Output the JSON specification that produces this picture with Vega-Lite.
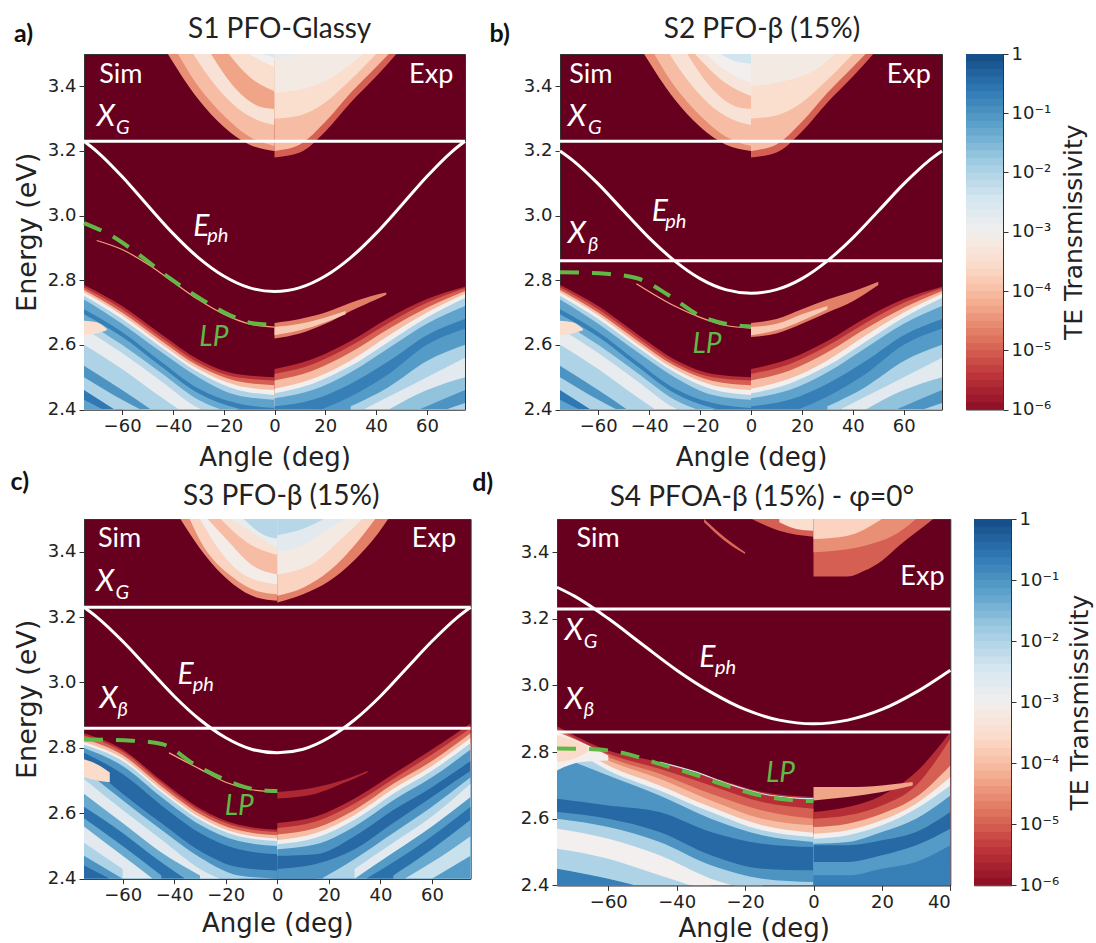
{"$schema":"https://vega.github.io/schema/vega-lite/v6.json","padding":{"left":10,"top":15,"right":0,"bottom":0},"background":"white","spacing":-2,
"config":{"axis":{"grid":false,"labelFont":"DejaVu Sans","labelFontSize":18,"titleFont":"DejaVu Sans","titleFontWeight":"normal","titleFontSize":26,"labelColor":"#222","titleColor":"#222","domainColor":"#333","tickColor":"#333","tickSize":5,"labelPadding":3},"view":{"fill":"#67001f","stroke":"#333"}},
"datasets":{
"bar":[{"h":1,"t":0.866},{"h":0.75,"t":0.649},{"h":0.562,"t":0.487},{"h":0.422,"t":0.365},{"h":0.316,"t":0.274},{"h":0.237,"t":0.205},{"h":0.178,"t":0.154},{"h":0.133,"t":0.115},{"h":0.1,"t":0.0866},{"h":0.075,"t":0.0649},{"h":0.0562,"t":0.0487},{"h":0.0422,"t":0.0365},{"h":0.0316,"t":0.0274},{"h":0.0237,"t":0.0205},{"h":0.0178,"t":0.0154},{"h":0.0133,"t":0.0115},{"h":0.01,"t":0.00866},{"h":0.0075,"t":0.00649},{"h":0.00562,"t":0.00487},{"h":0.00422,"t":0.00365},{"h":0.00316,"t":0.00274},{"h":0.00237,"t":0.00205},{"h":0.00178,"t":0.00154},{"h":0.00133,"t":0.00115},{"h":0.001,"t":0.000866},{"h":0.00075,"t":0.000649},{"h":0.000562,"t":0.000487},{"h":0.000422,"t":0.000365},{"h":0.000316,"t":0.000274},{"h":0.000237,"t":0.000205},{"h":0.000178,"t":0.000154},{"h":0.000133,"t":0.000115},{"h":0.0001,"t":0.0000866},{"h":0.000075,"t":0.0000649},{"h":0.0000562,"t":0.0000487},{"h":0.0000422,"t":0.0000365},{"h":0.0000316,"t":0.0000274},{"h":0.0000237,"t":0.0000205},{"h":0.0000178,"t":0.0000154},{"h":0.0000133,"t":0.0000115},{"h":0.00001,"t":0.00000866},{"h":0.0000075,"t":0.00000649},{"h":0.00000562,"t":0.00000487},{"h":0.00000422,"t":0.00000365},{"h":0.00000316,"t":0.00000274},{"h":0.00000237,"t":0.00000205},{"h":0.00000178,"t":0.00000154},{"h":0.00000133,"t":0.00000115}],
"lowAB":[
{"b":1,"t":3e-6,"x":-75,"y":2.785},{"b":1,"t":3e-6,"x":-60,"y":2.72},{"b":1,"t":3e-6,"x":-45,"y":2.635},{"b":1,"t":3e-6,"x":-30,"y":2.555},{"b":1,"t":3e-6,"x":-15,"y":2.51},{"b":1,"t":3e-6,"x":0,"y":2.5},
{"b":2,"t":1e-5,"x":-75,"y":2.778},{"b":2,"t":1e-5,"x":-60,"y":2.71},{"b":2,"t":1e-5,"x":-45,"y":2.625},{"b":2,"t":1e-5,"x":-30,"y":2.545},{"b":2,"t":1e-5,"x":-15,"y":2.5},{"b":2,"t":1e-5,"x":0,"y":2.49},
{"b":3,"t":1e-4,"x":-75,"y":2.77},{"b":3,"t":1e-4,"x":-60,"y":2.7},{"b":3,"t":1e-4,"x":-45,"y":2.615},{"b":3,"t":1e-4,"x":-30,"y":2.535},{"b":3,"t":1e-4,"x":-15,"y":2.488},{"b":3,"t":1e-4,"x":0,"y":2.475},
{"b":4,"t":1e-3,"x":-75,"y":2.762},{"b":4,"t":1e-3,"x":-60,"y":2.692},{"b":4,"t":1e-3,"x":-45,"y":2.605},{"b":4,"t":1e-3,"x":-30,"y":2.525},{"b":4,"t":1e-3,"x":-15,"y":2.475},{"b":4,"t":1e-3,"x":0,"y":2.46},
{"b":5,"t":1e-2,"x":-75,"y":2.752},{"b":5,"t":1e-2,"x":-60,"y":2.68},{"b":5,"t":1e-2,"x":-45,"y":2.595},{"b":5,"t":1e-2,"x":-30,"y":2.515},{"b":5,"t":1e-2,"x":-15,"y":2.462},{"b":5,"t":1e-2,"x":0,"y":2.445},
{"b":6,"t":6e-2,"x":-75,"y":2.74},{"b":6,"t":6e-2,"x":-60,"y":2.665},{"b":6,"t":6e-2,"x":-45,"y":2.58},{"b":6,"t":6e-2,"x":-30,"y":2.5},{"b":6,"t":6e-2,"x":-15,"y":2.445},{"b":6,"t":6e-2,"x":0,"y":2.43},
{"b":7,"t":2e-1,"x":-75,"y":2.71},{"b":7,"t":2e-1,"x":-60,"y":2.64},{"b":7,"t":2e-1,"x":-45,"y":2.55},{"b":7,"t":2e-1,"x":-30,"y":2.465},{"b":7,"t":2e-1,"x":-15,"y":2.42},{"b":7,"t":2e-1,"x":0,"y":2.405},
{"b":8,"t":5e-2,"x":-75,"y":2.695},{"b":8,"t":5e-2,"x":-60,"y":2.625},{"b":8,"t":5e-2,"x":-45,"y":2.535},{"b":8,"t":5e-2,"x":-30,"y":2.45},{"b":8,"t":5e-2,"x":-15,"y":2.405},{"b":8,"t":5e-2,"x":0,"y":2.39},
{"b":9,"t":8e-3,"x":-75,"y":2.675},{"b":9,"t":8e-3,"x":-60,"y":2.6},{"b":9,"t":8e-3,"x":-45,"y":2.515},{"b":9,"t":8e-3,"x":-30,"y":2.43},{"b":9,"t":8e-3,"x":-15,"y":2.385},
{"b":10,"t":1.5e-3,"x":-75,"y":2.65},{"b":10,"t":1.5e-3,"x":-60,"y":2.575},{"b":10,"t":1.5e-3,"x":-45,"y":2.49},{"b":10,"t":1.5e-3,"x":-30,"y":2.405},{"b":10,"t":1.5e-3,"x":-15,"y":2.375},
{"b":11,"t":1e-2,"x":-75,"y":2.6},{"b":11,"t":1e-2,"x":-60,"y":2.525},{"b":11,"t":1e-2,"x":-45,"y":2.44},{"b":11,"t":1e-2,"x":-30,"y":2.36},
{"b":12,"t":1e-1,"x":-75,"y":2.535},{"b":12,"t":1e-1,"x":-60,"y":2.46},{"b":12,"t":1e-1,"x":-45,"y":2.38},
{"b":13,"t":1e-2,"x":-75,"y":2.5},{"b":13,"t":1e-2,"x":-60,"y":2.43},{"b":13,"t":1e-2,"x":-45,"y":2.37},
{"b":14,"t":2.5e-1,"x":-75,"y":2.46},{"b":14,"t":2.5e-1,"x":-60,"y":2.385},
{"b":15,"t":6e-2,"x":-75,"y":2.43},{"b":15,"t":6e-2,"x":-60,"y":2.37},
{"b":21,"t":3e-6,"x":0,"y":2.525},{"b":21,"t":3e-6,"x":15,"y":2.556},{"b":21,"t":3e-6,"x":30,"y":2.612},{"b":21,"t":3e-6,"x":45,"y":2.683},{"b":21,"t":3e-6,"x":60,"y":2.742},{"b":21,"t":3e-6,"x":75,"y":2.78},
{"b":22,"t":1e-5,"x":0,"y":2.51},{"b":22,"t":1e-5,"x":15,"y":2.54},{"b":22,"t":1e-5,"x":30,"y":2.597},{"b":22,"t":1e-5,"x":45,"y":2.668},{"b":22,"t":1e-5,"x":60,"y":2.73},{"b":22,"t":1e-5,"x":75,"y":2.775},
{"b":23,"t":1e-4,"x":0,"y":2.49},{"b":23,"t":1e-4,"x":15,"y":2.52},{"b":23,"t":1e-4,"x":30,"y":2.577},{"b":23,"t":1e-4,"x":45,"y":2.65},{"b":23,"t":1e-4,"x":60,"y":2.715},{"b":23,"t":1e-4,"x":75,"y":2.767},
{"b":24,"t":1e-3,"x":0,"y":2.464},{"b":24,"t":1e-3,"x":15,"y":2.495},{"b":24,"t":1e-3,"x":30,"y":2.552},{"b":24,"t":1e-3,"x":45,"y":2.629},{"b":24,"t":1e-3,"x":60,"y":2.7},{"b":24,"t":1e-3,"x":75,"y":2.758},
{"b":25,"t":1e-2,"x":0,"y":2.45},{"b":25,"t":1e-2,"x":15,"y":2.48},{"b":25,"t":1e-2,"x":30,"y":2.535},{"b":25,"t":1e-2,"x":45,"y":2.61},{"b":25,"t":1e-2,"x":60,"y":2.685},{"b":25,"t":1e-2,"x":75,"y":2.745},
{"b":26,"t":6e-2,"x":0,"y":2.435},{"b":26,"t":6e-2,"x":15,"y":2.46},{"b":26,"t":6e-2,"x":30,"y":2.515},{"b":26,"t":6e-2,"x":45,"y":2.59},{"b":26,"t":6e-2,"x":60,"y":2.665},{"b":26,"t":6e-2,"x":75,"y":2.72},
{"b":27,"t":2e-1,"x":0,"y":2.41},{"b":27,"t":2e-1,"x":15,"y":2.43},{"b":27,"t":2e-1,"x":30,"y":2.48},{"b":27,"t":2e-1,"x":45,"y":2.55},{"b":27,"t":2e-1,"x":60,"y":2.63},{"b":27,"t":2e-1,"x":75,"y":2.68},
{"b":28,"t":8e-2,"x":15,"y":2.39},{"b":28,"t":8e-2,"x":30,"y":2.44},{"b":28,"t":8e-2,"x":45,"y":2.51},{"b":28,"t":8e-2,"x":60,"y":2.6},{"b":28,"t":8e-2,"x":75,"y":2.65},
{"b":29,"t":1e-2,"x":30,"y":2.41},{"b":29,"t":1e-2,"x":45,"y":2.47},{"b":29,"t":1e-2,"x":60,"y":2.55},{"b":29,"t":1e-2,"x":75,"y":2.6},
{"b":30,"t":2e-3,"x":30,"y":2.38},{"b":30,"t":2e-3,"x":45,"y":2.44},{"b":30,"t":2e-3,"x":60,"y":2.5},{"b":30,"t":2e-3,"x":75,"y":2.56},
{"b":31,"t":2e-2,"x":45,"y":2.4},{"b":31,"t":2e-2,"x":60,"y":2.46},{"b":31,"t":2e-2,"x":75,"y":2.5},
{"b":32,"t":1e-1,"x":45,"y":2.36},{"b":32,"t":1e-1,"x":60,"y":2.41},{"b":32,"t":1e-1,"x":75,"y":2.46},
{"b":33,"t":1e-2,"x":60,"y":2.38},{"b":33,"t":1e-2,"x":75,"y":2.42}],
"lowC":[
{"b":1,"t":3e-6,"x":-75,"y":2.845},{"b":1,"t":3e-6,"x":-60,"y":2.795},{"b":1,"t":3e-6,"x":-45,"y":2.7},{"b":1,"t":3e-6,"x":-30,"y":2.615},{"b":1,"t":3e-6,"x":-15,"y":2.565},{"b":1,"t":3e-6,"x":0,"y":2.55},
{"b":2,"t":1e-5,"x":-75,"y":2.838},{"b":2,"t":1e-5,"x":-60,"y":2.788},{"b":2,"t":1e-5,"x":-45,"y":2.693},{"b":2,"t":1e-5,"x":-30,"y":2.608},{"b":2,"t":1e-5,"x":-15,"y":2.558},{"b":2,"t":1e-5,"x":0,"y":2.543},
{"b":3,"t":1e-4,"x":-75,"y":2.828},{"b":3,"t":1e-4,"x":-60,"y":2.778},{"b":3,"t":1e-4,"x":-45,"y":2.683},{"b":3,"t":1e-4,"x":-30,"y":2.598},{"b":3,"t":1e-4,"x":-15,"y":2.548},{"b":3,"t":1e-4,"x":0,"y":2.533},
{"b":4,"t":1e-3,"x":-75,"y":2.818},{"b":4,"t":1e-3,"x":-60,"y":2.768},{"b":4,"t":1e-3,"x":-45,"y":2.673},{"b":4,"t":1e-3,"x":-30,"y":2.588},{"b":4,"t":1e-3,"x":-15,"y":2.538},{"b":4,"t":1e-3,"x":0,"y":2.523},
{"b":5,"t":1e-2,"x":-75,"y":2.81},{"b":5,"t":1e-2,"x":-60,"y":2.76},{"b":5,"t":1e-2,"x":-45,"y":2.665},{"b":5,"t":1e-2,"x":-30,"y":2.58},{"b":5,"t":1e-2,"x":-15,"y":2.53},{"b":5,"t":1e-2,"x":0,"y":2.515},
{"b":6,"t":1e-1,"x":-75,"y":2.8},{"b":6,"t":1e-1,"x":-60,"y":2.745},{"b":6,"t":1e-1,"x":-45,"y":2.65},{"b":6,"t":1e-1,"x":-30,"y":2.565},{"b":6,"t":1e-1,"x":-15,"y":2.515},{"b":6,"t":1e-1,"x":0,"y":2.5},
{"b":7,"t":4e-1,"x":-75,"y":2.785},{"b":7,"t":4e-1,"x":-60,"y":2.72},{"b":7,"t":4e-1,"x":-45,"y":2.625},{"b":7,"t":4e-1,"x":-30,"y":2.54},{"b":7,"t":4e-1,"x":-15,"y":2.49},{"b":7,"t":4e-1,"x":0,"y":2.475},
{"b":8,"t":1e-1,"x":-75,"y":2.76},{"b":8,"t":1e-1,"x":-60,"y":2.66},{"b":8,"t":1e-1,"x":-45,"y":2.57},{"b":8,"t":1e-1,"x":-30,"y":2.485},{"b":8,"t":1e-1,"x":-15,"y":2.435},{"b":8,"t":1e-1,"x":0,"y":2.425},
{"b":9,"t":1e-2,"x":-75,"y":2.735},{"b":9,"t":1e-2,"x":-60,"y":2.64},{"b":9,"t":1e-2,"x":-45,"y":2.55},{"b":9,"t":1e-2,"x":-30,"y":2.465},{"b":9,"t":1e-2,"x":-15,"y":2.41},{"b":9,"t":1e-2,"x":0,"y":2.4},
{"b":10,"t":2e-3,"x":-75,"y":2.705},{"b":10,"t":2e-3,"x":-60,"y":2.61},{"b":10,"t":2e-3,"x":-45,"y":2.52},{"b":10,"t":2e-3,"x":-30,"y":2.43},{"b":10,"t":2e-3,"x":-15,"y":2.38},
{"b":11,"t":5e-2,"x":-75,"y":2.66},{"b":11,"t":5e-2,"x":-60,"y":2.57},{"b":11,"t":5e-2,"x":-45,"y":2.48},{"b":11,"t":5e-2,"x":-30,"y":2.41},
{"b":12,"t":3e-1,"x":-75,"y":2.62},{"b":12,"t":3e-1,"x":-60,"y":2.54},{"b":12,"t":3e-1,"x":-45,"y":2.45},{"b":12,"t":3e-1,"x":-30,"y":2.37},
{"b":13,"t":5e-2,"x":-75,"y":2.585},{"b":13,"t":5e-2,"x":-60,"y":2.5},{"b":13,"t":5e-2,"x":-45,"y":2.41},
{"b":14,"t":2e-3,"x":-75,"y":2.56},{"b":14,"t":2e-3,"x":-60,"y":2.47},{"b":14,"t":2e-3,"x":-45,"y":2.38},
{"b":15,"t":1e-2,"x":-75,"y":2.51},{"b":15,"t":1e-2,"x":-60,"y":2.43},
{"b":16,"t":1e-1,"x":-75,"y":2.47},{"b":16,"t":1e-1,"x":-60,"y":2.4},
{"b":17,"t":4e-1,"x":-75,"y":2.44},{"b":17,"t":4e-1,"x":-60,"y":2.38},
{"b":21,"t":3e-6,"x":0,"y":2.57},{"b":21,"t":3e-6,"x":15,"y":2.59},{"b":21,"t":3e-6,"x":30,"y":2.645},{"b":21,"t":3e-6,"x":45,"y":2.72},{"b":21,"t":3e-6,"x":60,"y":2.795},{"b":21,"t":3e-6,"x":75,"y":2.875},
{"b":22,"t":1e-5,"x":0,"y":2.555},{"b":22,"t":1e-5,"x":15,"y":2.575},{"b":22,"t":1e-5,"x":30,"y":2.63},{"b":22,"t":1e-5,"x":45,"y":2.705},{"b":22,"t":1e-5,"x":60,"y":2.78},{"b":22,"t":1e-5,"x":75,"y":2.86},
{"b":23,"t":1e-4,"x":0,"y":2.535},{"b":23,"t":1e-4,"x":15,"y":2.555},{"b":23,"t":1e-4,"x":30,"y":2.61},{"b":23,"t":1e-4,"x":45,"y":2.69},{"b":23,"t":1e-4,"x":60,"y":2.76},{"b":23,"t":1e-4,"x":75,"y":2.845},
{"b":24,"t":1e-3,"x":0,"y":2.518},{"b":24,"t":1e-3,"x":15,"y":2.54},{"b":24,"t":1e-3,"x":30,"y":2.595},{"b":24,"t":1e-3,"x":45,"y":2.675},{"b":24,"t":1e-3,"x":60,"y":2.745},{"b":24,"t":1e-3,"x":75,"y":2.83},
{"b":25,"t":1e-2,"x":0,"y":2.505},{"b":25,"t":1e-2,"x":15,"y":2.525},{"b":25,"t":1e-2,"x":30,"y":2.58},{"b":25,"t":1e-2,"x":45,"y":2.66},{"b":25,"t":1e-2,"x":60,"y":2.73},{"b":25,"t":1e-2,"x":75,"y":2.815},
{"b":26,"t":1e-1,"x":0,"y":2.49},{"b":26,"t":1e-1,"x":15,"y":2.505},{"b":26,"t":1e-1,"x":30,"y":2.56},{"b":26,"t":1e-1,"x":45,"y":2.64},{"b":26,"t":1e-1,"x":60,"y":2.71},{"b":26,"t":1e-1,"x":75,"y":2.795},
{"b":27,"t":4e-1,"x":0,"y":2.47},{"b":27,"t":4e-1,"x":15,"y":2.475},{"b":27,"t":4e-1,"x":30,"y":2.53},{"b":27,"t":4e-1,"x":45,"y":2.61},{"b":27,"t":4e-1,"x":60,"y":2.68},{"b":27,"t":4e-1,"x":75,"y":2.76},
{"b":28,"t":1e-1,"x":0,"y":2.43},{"b":28,"t":1e-1,"x":15,"y":2.445},{"b":28,"t":1e-1,"x":30,"y":2.49},{"b":28,"t":1e-1,"x":45,"y":2.57},{"b":28,"t":1e-1,"x":60,"y":2.65},{"b":28,"t":1e-1,"x":75,"y":2.73},
{"b":29,"t":1e-2,"x":15,"y":2.39},{"b":29,"t":1e-2,"x":30,"y":2.46},{"b":29,"t":1e-2,"x":45,"y":2.54},{"b":29,"t":1e-2,"x":60,"y":2.62},{"b":29,"t":1e-2,"x":75,"y":2.71},
{"b":30,"t":2e-3,"x":30,"y":2.43},{"b":30,"t":2e-3,"x":45,"y":2.51},{"b":30,"t":2e-3,"x":60,"y":2.59},{"b":30,"t":2e-3,"x":75,"y":2.69},
{"b":31,"t":8e-2,"x":30,"y":2.4},{"b":31,"t":8e-2,"x":45,"y":2.48},{"b":31,"t":8e-2,"x":60,"y":2.56},{"b":31,"t":8e-2,"x":75,"y":2.65},
{"b":32,"t":3e-1,"x":30,"y":2.38},{"b":32,"t":3e-1,"x":45,"y":2.45},{"b":32,"t":3e-1,"x":60,"y":2.53},{"b":32,"t":3e-1,"x":75,"y":2.62},
{"b":33,"t":5e-2,"x":45,"y":2.41},{"b":33,"t":5e-2,"x":60,"y":2.49},{"b":33,"t":5e-2,"x":75,"y":2.58},
{"b":34,"t":5e-3,"x":45,"y":2.38},{"b":34,"t":5e-3,"x":60,"y":2.45},{"b":34,"t":5e-3,"x":75,"y":2.53},
{"b":35,"t":8e-2,"x":60,"y":2.4},{"b":35,"t":8e-2,"x":75,"y":2.47}],
"lowD":[
{"b":1,"t":3e-6,"x":-75,"y":2.878},{"b":1,"t":3e-6,"x":-60,"y":2.805},{"b":1,"t":3e-6,"x":-45,"y":2.77},{"b":1,"t":3e-6,"x":-30,"y":2.725},{"b":1,"t":3e-6,"x":-15,"y":2.68},{"b":1,"t":3e-6,"x":0,"y":2.665},
{"b":2,"t":1e-5,"x":-75,"y":2.87},{"b":2,"t":1e-5,"x":-60,"y":2.795},{"b":2,"t":1e-5,"x":-45,"y":2.75},{"b":2,"t":1e-5,"x":-30,"y":2.7},{"b":2,"t":1e-5,"x":-15,"y":2.65},{"b":2,"t":1e-5,"x":0,"y":2.63},
{"b":3,"t":3e-5,"x":-75,"y":2.865},{"b":3,"t":3e-5,"x":-60,"y":2.785},{"b":3,"t":3e-5,"x":-45,"y":2.735},{"b":3,"t":3e-5,"x":-30,"y":2.675},{"b":3,"t":3e-5,"x":-15,"y":2.625},{"b":3,"t":3e-5,"x":0,"y":2.6},
{"b":4,"t":1e-4,"x":-75,"y":2.86},{"b":4,"t":1e-4,"x":-60,"y":2.775},{"b":4,"t":1e-4,"x":-45,"y":2.72},{"b":4,"t":1e-4,"x":-30,"y":2.655},{"b":4,"t":1e-4,"x":-15,"y":2.6},{"b":4,"t":1e-4,"x":0,"y":2.58},
{"b":5,"t":1e-3,"x":-75,"y":2.85},{"b":5,"t":1e-3,"x":-60,"y":2.76},{"b":5,"t":1e-3,"x":-45,"y":2.7},{"b":5,"t":1e-3,"x":-30,"y":2.635},{"b":5,"t":1e-3,"x":-15,"y":2.58},{"b":5,"t":1e-3,"x":0,"y":2.558},
{"b":6,"t":1e-2,"x":-75,"y":2.84},{"b":6,"t":1e-2,"x":-60,"y":2.745},{"b":6,"t":1e-2,"x":-45,"y":2.685},{"b":6,"t":1e-2,"x":-30,"y":2.62},{"b":6,"t":1e-2,"x":-15,"y":2.565},{"b":6,"t":1e-2,"x":0,"y":2.545},
{"b":7,"t":1e-1,"x":-75,"y":2.79},{"b":7,"t":1e-1,"x":-60,"y":2.73},{"b":7,"t":1e-1,"x":-45,"y":2.67},{"b":7,"t":1e-1,"x":-30,"y":2.6},{"b":7,"t":1e-1,"x":-15,"y":2.55},{"b":7,"t":1e-1,"x":0,"y":2.53},
{"b":8,"t":4e-1,"x":-75,"y":2.66},{"b":8,"t":4e-1,"x":-60,"y":2.64},{"b":8,"t":4e-1,"x":-45,"y":2.62},{"b":8,"t":4e-1,"x":-30,"y":2.56},{"b":8,"t":4e-1,"x":-15,"y":2.525},{"b":8,"t":4e-1,"x":0,"y":2.515},
{"b":9,"t":1e-1,"x":-75,"y":2.62},{"b":9,"t":1e-1,"x":-60,"y":2.6},{"b":9,"t":1e-1,"x":-45,"y":2.56},{"b":9,"t":1e-1,"x":-30,"y":2.49},{"b":9,"t":1e-1,"x":-15,"y":2.45},{"b":9,"t":1e-1,"x":0,"y":2.445},
{"b":10,"t":1e-2,"x":-75,"y":2.6},{"b":10,"t":1e-2,"x":-60,"y":2.575},{"b":10,"t":1e-2,"x":-45,"y":2.53},{"b":10,"t":1e-2,"x":-30,"y":2.46},{"b":10,"t":1e-2,"x":-15,"y":2.42},{"b":10,"t":1e-2,"x":0,"y":2.41},
{"b":11,"t":1e-3,"x":-75,"y":2.57},{"b":11,"t":1e-3,"x":-60,"y":2.54},{"b":11,"t":1e-3,"x":-45,"y":2.49},{"b":11,"t":1e-3,"x":-30,"y":2.42},{"b":11,"t":1e-3,"x":-15,"y":2.38},
{"b":12,"t":1e-2,"x":-75,"y":2.51},{"b":12,"t":1e-2,"x":-60,"y":2.48},{"b":12,"t":1e-2,"x":-45,"y":2.43},{"b":12,"t":1e-2,"x":-30,"y":2.38},
{"b":13,"t":2e-1,"x":-75,"y":2.45},{"b":13,"t":2e-1,"x":-60,"y":2.42},{"b":13,"t":2e-1,"x":-45,"y":2.38},
{"b":21,"t":3e-6,"x":0,"y":2.62},{"b":21,"t":3e-6,"x":10,"y":2.635},{"b":21,"t":3e-6,"x":20,"y":2.67},{"b":21,"t":3e-6,"x":30,"y":2.74},{"b":21,"t":3e-6,"x":40,"y":2.86},
{"b":22,"t":1e-5,"x":0,"y":2.6},{"b":22,"t":1e-5,"x":10,"y":2.61},{"b":22,"t":1e-5,"x":20,"y":2.64},{"b":22,"t":1e-5,"x":30,"y":2.7},{"b":22,"t":1e-5,"x":40,"y":2.84},
{"b":23,"t":1e-4,"x":0,"y":2.575},{"b":23,"t":1e-4,"x":10,"y":2.585},{"b":23,"t":1e-4,"x":20,"y":2.615},{"b":23,"t":1e-4,"x":30,"y":2.665},{"b":23,"t":1e-4,"x":40,"y":2.76},
{"b":24,"t":1e-3,"x":0,"y":2.555},{"b":24,"t":1e-3,"x":10,"y":2.565},{"b":24,"t":1e-3,"x":20,"y":2.595},{"b":24,"t":1e-3,"x":30,"y":2.645},{"b":24,"t":1e-3,"x":40,"y":2.725},
{"b":25,"t":1e-2,"x":0,"y":2.54},{"b":25,"t":1e-2,"x":10,"y":2.55},{"b":25,"t":1e-2,"x":20,"y":2.58},{"b":25,"t":1e-2,"x":30,"y":2.63},{"b":25,"t":1e-2,"x":40,"y":2.7},
{"b":26,"t":1e-1,"x":0,"y":2.525},{"b":26,"t":1e-1,"x":10,"y":2.53},{"b":26,"t":1e-1,"x":20,"y":2.56},{"b":26,"t":1e-1,"x":30,"y":2.6},{"b":26,"t":1e-1,"x":40,"y":2.67},
{"b":27,"t":4e-1,"x":0,"y":2.52},{"b":27,"t":4e-1,"x":10,"y":2.52},{"b":27,"t":4e-1,"x":20,"y":2.535},{"b":27,"t":4e-1,"x":30,"y":2.56},{"b":27,"t":4e-1,"x":40,"y":2.62},
{"b":28,"t":8e-2,"x":0,"y":2.47},{"b":28,"t":8e-2,"x":10,"y":2.47},{"b":28,"t":8e-2,"x":20,"y":2.49},{"b":28,"t":8e-2,"x":30,"y":2.52},{"b":28,"t":8e-2,"x":40,"y":2.57},
{"b":29,"t":2e-1,"x":0,"y":2.43},{"b":29,"t":2e-1,"x":10,"y":2.43},{"b":29,"t":2e-1,"x":20,"y":2.45},{"b":29,"t":2e-1,"x":30,"y":2.47},{"b":29,"t":2e-1,"x":40,"y":2.52}],
"hiA":[
{"b":1,"t":3e-5,"x":-42,"y":3.5},{"b":1,"t":3e-5,"x":-30,"y":3.36},{"b":1,"t":3e-5,"x":-20,"y":3.275},{"b":1,"t":3e-5,"x":-10,"y":3.22},{"b":1,"t":3e-5,"x":0,"y":3.2},
{"b":2,"t":1e-4,"x":-38,"y":3.5},{"b":2,"t":1e-4,"x":-30,"y":3.4},{"b":2,"t":1e-4,"x":-20,"y":3.31},{"b":2,"t":1e-4,"x":-10,"y":3.245},{"b":2,"t":1e-4,"x":0,"y":3.215},
{"b":3,"t":4e-4,"x":-32,"y":3.5},{"b":3,"t":4e-4,"x":-25,"y":3.42},{"b":3,"t":4e-4,"x":-15,"y":3.335},{"b":3,"t":4e-4,"x":-5,"y":3.29},{"b":3,"t":4e-4,"x":0,"y":3.28},
{"b":4,"t":5e-5,"x":-25,"y":3.5},{"b":4,"t":5e-5,"x":-15,"y":3.39},{"b":4,"t":5e-5,"x":-5,"y":3.335},{"b":4,"t":5e-5,"x":0,"y":3.33},
{"b":5,"t":3e-4,"x":-18,"y":3.5},{"b":5,"t":3e-4,"x":-10,"y":3.43},{"b":5,"t":3e-4,"x":0,"y":3.385},
{"b":6,"t":1e-3,"x":-10,"y":3.5},{"b":6,"t":1e-3,"x":-3,"y":3.47},{"b":6,"t":1e-3,"x":0,"y":3.46},
{"b":7,"t":3e-3,"x":-5,"y":3.5},{"b":7,"t":3e-3,"x":0,"y":3.49},
{"b":21,"t":1e-5,"x":0,"y":3.18},{"b":21,"t":1e-5,"x":10,"y":3.195},{"b":21,"t":1e-5,"x":20,"y":3.26},{"b":21,"t":1e-5,"x":30,"y":3.35},{"b":21,"t":1e-5,"x":40,"y":3.43},{"b":21,"t":1e-5,"x":48,"y":3.5},
{"b":22,"t":1e-4,"x":0,"y":3.2},{"b":22,"t":1e-4,"x":10,"y":3.22},{"b":22,"t":1e-4,"x":20,"y":3.29},{"b":22,"t":1e-4,"x":30,"y":3.38},{"b":22,"t":1e-4,"x":40,"y":3.46},{"b":22,"t":1e-4,"x":45,"y":3.5},
{"b":23,"t":3e-4,"x":0,"y":3.3},{"b":23,"t":3e-4,"x":10,"y":3.31},{"b":23,"t":3e-4,"x":20,"y":3.35},{"b":23,"t":3e-4,"x":30,"y":3.42},{"b":23,"t":3e-4,"x":40,"y":3.5},
{"b":24,"t":7e-4,"x":0,"y":3.38},{"b":24,"t":7e-4,"x":15,"y":3.4},{"b":24,"t":7e-4,"x":25,"y":3.44},{"b":24,"t":7e-4,"x":35,"y":3.5},
{"b":25,"t":1.5e-3,"x":0,"y":3.48},{"b":25,"t":1.5e-3,"x":10,"y":3.5}],
"hiB":[
{"b":1,"t":3e-5,"x":-42,"y":3.5},{"b":1,"t":3e-5,"x":-30,"y":3.36},{"b":1,"t":3e-5,"x":-20,"y":3.275},{"b":1,"t":3e-5,"x":-10,"y":3.22},{"b":1,"t":3e-5,"x":0,"y":3.2},
{"b":2,"t":1e-4,"x":-38,"y":3.5},{"b":2,"t":1e-4,"x":-30,"y":3.4},{"b":2,"t":1e-4,"x":-20,"y":3.31},{"b":2,"t":1e-4,"x":-10,"y":3.245},{"b":2,"t":1e-4,"x":0,"y":3.215},
{"b":3,"t":4e-4,"x":-32,"y":3.5},{"b":3,"t":4e-4,"x":-25,"y":3.42},{"b":3,"t":4e-4,"x":-15,"y":3.335},{"b":3,"t":4e-4,"x":-5,"y":3.29},{"b":3,"t":4e-4,"x":0,"y":3.28},
{"b":4,"t":1e-4,"x":-25,"y":3.5},{"b":4,"t":1e-4,"x":-15,"y":3.39},{"b":4,"t":1e-4,"x":-5,"y":3.335},{"b":4,"t":1e-4,"x":0,"y":3.33},
{"b":5,"t":5e-4,"x":-22,"y":3.5},{"b":5,"t":5e-4,"x":-10,"y":3.41},{"b":5,"t":5e-4,"x":0,"y":3.37},
{"b":6,"t":1e-3,"x":-18,"y":3.5},{"b":6,"t":1e-3,"x":-10,"y":3.45},{"b":6,"t":1e-3,"x":0,"y":3.41},
{"b":7,"t":4e-3,"x":-12,"y":3.5},{"b":7,"t":4e-3,"x":-5,"y":3.475},{"b":7,"t":4e-3,"x":0,"y":3.47},
{"b":21,"t":1e-5,"x":0,"y":3.18},{"b":21,"t":1e-5,"x":10,"y":3.195},{"b":21,"t":1e-5,"x":20,"y":3.26},{"b":21,"t":1e-5,"x":30,"y":3.35},{"b":21,"t":1e-5,"x":40,"y":3.43},{"b":21,"t":1e-5,"x":48,"y":3.5},
{"b":22,"t":1e-4,"x":0,"y":3.2},{"b":22,"t":1e-4,"x":10,"y":3.22},{"b":22,"t":1e-4,"x":20,"y":3.29},{"b":22,"t":1e-4,"x":30,"y":3.38},{"b":22,"t":1e-4,"x":40,"y":3.46},{"b":22,"t":1e-4,"x":45,"y":3.5},
{"b":23,"t":3e-4,"x":0,"y":3.3},{"b":23,"t":3e-4,"x":10,"y":3.31},{"b":23,"t":3e-4,"x":20,"y":3.35},{"b":23,"t":3e-4,"x":30,"y":3.42},{"b":23,"t":3e-4,"x":40,"y":3.5},
{"b":24,"t":7e-4,"x":0,"y":3.4},{"b":24,"t":7e-4,"x":15,"y":3.42},{"b":24,"t":7e-4,"x":25,"y":3.45},{"b":24,"t":7e-4,"x":33,"y":3.5}],
"hiC":[
{"b":1,"t":3e-5,"x":-37.6,"y":3.5},{"b":1,"t":3e-5,"x":-30,"y":3.41},{"b":1,"t":3e-5,"x":-17,"y":3.3},{"b":1,"t":3e-5,"x":-8,"y":3.26},{"b":1,"t":3e-5,"x":0,"y":3.25},
{"b":2,"t":2e-4,"x":-34,"y":3.5},{"b":2,"t":2e-4,"x":-30,"y":3.435},{"b":2,"t":2e-4,"x":-17,"y":3.32},{"b":2,"t":2e-4,"x":-8,"y":3.28},{"b":2,"t":2e-4,"x":0,"y":3.27},
{"b":3,"t":8e-4,"x":-30,"y":3.5},{"b":3,"t":8e-4,"x":-22,"y":3.4},{"b":3,"t":8e-4,"x":-12,"y":3.325},{"b":3,"t":8e-4,"x":0,"y":3.3},
{"b":4,"t":1e-4,"x":-27,"y":3.5},{"b":4,"t":1e-4,"x":-20,"y":3.44},{"b":4,"t":1e-4,"x":-10,"y":3.36},{"b":4,"t":1e-4,"x":0,"y":3.33},
{"b":5,"t":4e-4,"x":-22,"y":3.5},{"b":5,"t":4e-4,"x":-12,"y":3.43},{"b":5,"t":4e-4,"x":0,"y":3.39},
{"b":6,"t":1.5e-3,"x":-18,"y":3.5},{"b":6,"t":1.5e-3,"x":-10,"y":3.46},{"b":6,"t":1.5e-3,"x":0,"y":3.41},
{"b":7,"t":8e-3,"x":-13,"y":3.5},{"b":7,"t":8e-3,"x":-5,"y":3.45},{"b":7,"t":8e-3,"x":0,"y":3.44},
{"b":21,"t":2e-5,"x":0,"y":3.245},{"b":21,"t":2e-5,"x":10,"y":3.27},{"b":21,"t":2e-5,"x":20,"y":3.31},{"b":21,"t":2e-5,"x":30,"y":3.375},{"b":21,"t":2e-5,"x":39,"y":3.455},{"b":21,"t":2e-5,"x":43,"y":3.5},
{"b":22,"t":2e-4,"x":0,"y":3.265},{"b":22,"t":2e-4,"x":10,"y":3.29},{"b":22,"t":2e-4,"x":20,"y":3.34},{"b":22,"t":2e-4,"x":30,"y":3.42},{"b":22,"t":2e-4,"x":38,"y":3.5},
{"b":23,"t":7e-4,"x":0,"y":3.33},{"b":23,"t":7e-4,"x":15,"y":3.37},{"b":23,"t":7e-4,"x":25,"y":3.44},{"b":23,"t":7e-4,"x":33,"y":3.5},
{"b":24,"t":2e-3,"x":0,"y":3.4},{"b":24,"t":2e-3,"x":10,"y":3.42},{"b":24,"t":2e-3,"x":20,"y":3.47},{"b":24,"t":2e-3,"x":27,"y":3.5},
{"b":25,"t":8e-3,"x":0,"y":3.45},{"b":25,"t":8e-3,"x":10,"y":3.47},{"b":25,"t":8e-3,"x":18,"y":3.5}],
"hiD":[
{"b":1,"t":1e-5,"x":-18,"y":3.5},{"b":1,"t":1e-5,"x":-10,"y":3.465},{"b":1,"t":1e-5,"x":0,"y":3.447},
{"b":2,"t":3e-4,"x":-10,"y":3.49},{"b":2,"t":3e-4,"x":-5,"y":3.47},{"b":2,"t":3e-4,"x":0,"y":3.465},
{"b":21,"t":1e-5,"x":0,"y":3.327},{"b":21,"t":1e-5,"x":10,"y":3.327},{"b":21,"t":1e-5,"x":15,"y":3.345},{"b":21,"t":1e-5,"x":20,"y":3.375},{"b":21,"t":1e-5,"x":25,"y":3.42},{"b":21,"t":1e-5,"x":30,"y":3.46},{"b":21,"t":1e-5,"x":35,"y":3.5},
{"b":22,"t":3e-5,"x":0,"y":3.4},{"b":22,"t":3e-5,"x":15,"y":3.42},{"b":22,"t":3e-5,"x":25,"y":3.46},{"b":22,"t":3e-5,"x":30,"y":3.5},
{"b":23,"t":2e-4,"x":0,"y":3.44},{"b":23,"t":2e-4,"x":10,"y":3.45},{"b":23,"t":2e-4,"x":20,"y":3.5}],
"bandA":[
{"b":1,"t":3e-4,"x":-75,"y":2.675,"v":2.63},{"b":1,"t":3e-4,"x":-70,"y":2.67,"v":2.635},{"b":1,"t":3e-4,"x":-66,"y":2.65,"v":2.645},
{"b":2,"t":2e-5,"x":0,"y":2.668,"v":2.62},{"b":2,"t":2e-5,"x":10,"y":2.68,"v":2.635},{"b":2,"t":2e-5,"x":20,"y":2.7,"v":2.665},{"b":2,"t":2e-5,"x":30,"y":2.73,"v":2.705},{"b":2,"t":2e-5,"x":40,"y":2.755,"v":2.74},{"b":2,"t":2e-5,"x":44,"y":2.762,"v":2.755},
{"b":3,"t":1.5e-4,"x":0,"y":2.655,"v":2.63},{"b":3,"t":1.5e-4,"x":10,"y":2.665,"v":2.645},{"b":3,"t":1.5e-4,"x":20,"y":2.685,"v":2.67},{"b":3,"t":1.5e-4,"x":28,"y":2.705,"v":2.695}],
"bandB":[
{"b":1,"t":3e-4,"x":-75,"y":2.675,"v":2.63},{"b":1,"t":3e-4,"x":-70,"y":2.67,"v":2.635},{"b":1,"t":3e-4,"x":-66,"y":2.65,"v":2.645},
{"b":2,"t":2e-5,"x":0,"y":2.668,"v":2.624},{"b":2,"t":2e-5,"x":10,"y":2.68,"v":2.635},{"b":2,"t":2e-5,"x":20,"y":2.71,"v":2.665},{"b":2,"t":2e-5,"x":30,"y":2.74,"v":2.7},{"b":2,"t":2e-5,"x":40,"y":2.765,"v":2.735},{"b":2,"t":2e-5,"x":50,"y":2.795,"v":2.785},
{"b":3,"t":1.5e-4,"x":0,"y":2.655,"v":2.63},{"b":3,"t":1.5e-4,"x":10,"y":2.665,"v":2.645},{"b":3,"t":1.5e-4,"x":20,"y":2.695,"v":2.675},{"b":3,"t":1.5e-4,"x":30,"y":2.72,"v":2.71}],
"bandC":[
{"b":1,"t":2.5e-4,"x":-75,"y":2.765,"v":2.71},{"b":1,"t":2.5e-4,"x":-70,"y":2.75,"v":2.7},{"b":1,"t":2.5e-4,"x":-65,"y":2.725,"v":2.695},
{"b":2,"t":2.5e-6,"x":0,"y":2.665,"v":2.645},{"b":2,"t":2.5e-6,"x":15,"y":2.68,"v":2.66},{"b":2,"t":2.5e-6,"x":25,"y":2.7,"v":2.69},{"b":2,"t":2.5e-6,"x":35,"y":2.73,"v":2.725}],
"bandD":[
{"b":1,"t":1e-3,"x":-75,"y":2.86,"v":2.745},{"b":1,"t":1e-3,"x":-68,"y":2.83,"v":2.77},{"b":1,"t":1e-3,"x":-60,"y":2.79,"v":2.775},
{"b":2,"t":2.5e-4,"x":-75,"y":2.85,"v":2.77},{"b":2,"t":2.5e-4,"x":-70,"y":2.835,"v":2.78},{"b":2,"t":2.5e-4,"x":-66,"y":2.815,"v":2.8},
{"b":3,"t":1.2e-5,"x":-32,"y":3.5,"v":3.49},{"b":3,"t":1.2e-5,"x":-26,"y":3.445,"v":3.435},{"b":3,"t":1.2e-5,"x":-20,"y":3.4,"v":3.395},
{"b":4,"t":5e-5,"x":0,"y":2.695,"v":2.655},{"b":4,"t":5e-5,"x":10,"y":2.695,"v":2.665},{"b":4,"t":5e-5,"x":20,"y":2.7,"v":2.68},{"b":4,"t":5e-5,"x":29,"y":2.71,"v":2.7}],
"whiteA":[{"s":"g","x":-75,"y":3.23},{"s":"g","x":75,"y":3.23},
{"s":"e","x":-75,"y":3.23},{"s":"e","x":-70,"y":3.199},{"s":"e","x":-60,"y":3.121},{"s":"e","x":-50,"y":3.032},{"s":"e","x":-40,"y":2.945},{"s":"e","x":-30,"y":2.87},{"s":"e","x":-20,"y":2.813},{"s":"e","x":-10,"y":2.777},{"s":"e","x":0,"y":2.765},{"s":"e","x":10,"y":2.777},{"s":"e","x":20,"y":2.813},{"s":"e","x":30,"y":2.87},{"s":"e","x":40,"y":2.945},{"s":"e","x":50,"y":3.032},{"s":"e","x":60,"y":3.121},{"s":"e","x":70,"y":3.199},{"s":"e","x":75,"y":3.23}],
"whiteB":[{"s":"g","x":-75,"y":3.23},{"s":"g","x":75,"y":3.23},{"s":"b","x":-75,"y":2.86},{"s":"b","x":75,"y":2.86},
{"s":"e","x":-75,"y":3.2},{"s":"e","x":-70,"y":3.171},{"s":"e","x":-60,"y":3.098},{"s":"e","x":-50,"y":3.014},{"s":"e","x":-40,"y":2.931},{"s":"e","x":-30,"y":2.86},{"s":"e","x":-20,"y":2.805},{"s":"e","x":-10,"y":2.771},{"s":"e","x":0,"y":2.76},{"s":"e","x":10,"y":2.771},{"s":"e","x":20,"y":2.805},{"s":"e","x":30,"y":2.86},{"s":"e","x":40,"y":2.931},{"s":"e","x":50,"y":3.014},{"s":"e","x":60,"y":3.098},{"s":"e","x":70,"y":3.171},{"s":"e","x":75,"y":3.2}],
"whiteC":[{"s":"g","x":-75,"y":3.23},{"s":"g","x":75,"y":3.23},{"s":"b","x":-75,"y":2.86},{"s":"b","x":75,"y":2.86},
{"s":"e","x":-75,"y":3.23},{"s":"e","x":-70,"y":3.2},{"s":"e","x":-60,"y":3.126},{"s":"e","x":-50,"y":3.042},{"s":"e","x":-40,"y":2.958},{"s":"e","x":-30,"y":2.886},{"s":"e","x":-20,"y":2.831},{"s":"e","x":-10,"y":2.796},{"s":"e","x":0,"y":2.785},{"s":"e","x":10,"y":2.796},{"s":"e","x":20,"y":2.831},{"s":"e","x":30,"y":2.886},{"s":"e","x":40,"y":2.958},{"s":"e","x":50,"y":3.042},{"s":"e","x":60,"y":3.126},{"s":"e","x":70,"y":3.2},{"s":"e","x":75,"y":3.23}],
"whiteD":[{"s":"g","x":-75,"y":3.23},{"s":"g","x":40,"y":3.23},{"s":"b","x":-75,"y":2.86},{"s":"b","x":40,"y":2.86},
{"s":"e","x":-75,"y":3.295},{"s":"e","x":-70,"y":3.269},{"s":"e","x":-60,"y":3.201},{"s":"e","x":-50,"y":3.123},{"s":"e","x":-40,"y":3.046},{"s":"e","x":-30,"y":2.98},{"s":"e","x":-20,"y":2.928},{"s":"e","x":-10,"y":2.896},{"s":"e","x":0,"y":2.885},{"s":"e","x":10,"y":2.896},{"s":"e","x":20,"y":2.928},{"s":"e","x":30,"y":2.98},{"s":"e","x":40,"y":3.046}],
"thinA":[{"x":-70,"y":2.923},{"x":-60,"y":2.895},{"x":-50,"y":2.85},{"x":-40,"y":2.795},{"x":-30,"y":2.74},{"x":-20,"y":2.695},{"x":-10,"y":2.665},{"x":0,"y":2.655}],
"thinB":[{"x":-45,"y":2.789},{"x":-30,"y":2.72},{"x":-20,"y":2.685},{"x":-10,"y":2.66},{"x":0,"y":2.652}],
"thinC":[{"x":-42,"y":2.785},{"x":-30,"y":2.735},{"x":-20,"y":2.695},{"x":-10,"y":2.672},{"x":0,"y":2.665}],
"thinD":[{"x":-45,"y":2.77},{"x":-35,"y":2.742},{"x":-25,"y":2.705},{"x":-15,"y":2.675},{"x":-5,"y":2.662},{"x":0,"y":2.66}],
"greenA":[{"x":-75,"y":2.977},{"x":-64.5,"y":2.939},{"x":-53,"y":2.877},{"x":-41.4,"y":2.807},{"x":-29.6,"y":2.745},{"x":-17,"y":2.69},{"x":-8,"y":2.666},{"x":0,"y":2.662}],
"greenB":[{"x":-75,"y":2.825},{"x":-57,"y":2.82},{"x":-44.7,"y":2.806},{"x":-32,"y":2.752},{"x":-20,"y":2.69},{"x":-7.7,"y":2.662},{"x":0,"y":2.657}],
"greenC":[{"x":-75,"y":2.826},{"x":-56.4,"y":2.822},{"x":-44.8,"y":2.812},{"x":-31.8,"y":2.748},{"x":-20,"y":2.702},{"x":-8.5,"y":2.673},{"x":0,"y":2.668}],
"greenD":[{"x":-75,"y":2.811},{"x":-63,"y":2.808},{"x":-56,"y":2.798},{"x":-44.6,"y":2.763},{"x":-35.4,"y":2.735},{"x":-25,"y":2.698},{"x":-14.7,"y":2.668},{"x":-5.6,"y":2.655},{"x":0,"y":2.653}]
},
"vconcat":[
{"hconcat":[
{"width":381,"height":355.5,
"encoding":{"x":{"field":"x","type":"quantitative","scale":{"domain":[-75,75],"nice":false,"zero":false},"axis":{"title":"Angle (deg)","values":[-60,-40,-20,0,20,40,60],"titlePadding":9}},"y":{"field":"y","type":"quantitative","stack":null,"scale":{"domain":[2.4,3.5],"nice":false,"zero":false},"axis":{"title":"Energy (eV)","titleFontSize":27,"values":[2.4,2.6,2.8,3.0,3.2,3.4],"format":".1f","titlePadding":6}}},
"layer":[
{"data":{"name":"lowAB"},"mark":{"type":"area","clip":true,"interpolate":"monotone"},"encoding":{"y2":{"datum":2.4},"detail":{"field":"b"},"color":{"field":"t","type":"quantitative","legend":null,"scale":{"type":"log","domain":[1e-6,1],"scheme":"redblue"}}}},
{"data":{"name":"hiA"},"mark":{"type":"area","clip":true,"interpolate":"monotone"},"encoding":{"y2":{"datum":3.5},"detail":{"field":"b"},"color":{"field":"t","type":"quantitative","legend":null,"scale":{"type":"log","domain":[1e-6,1],"scheme":"redblue"}}}},
{"data":{"name":"bandA"},"mark":{"type":"area","clip":true,"interpolate":"monotone"},"encoding":{"y2":{"field":"v"},"detail":{"field":"b"},"color":{"field":"t","type":"quantitative","legend":null,"scale":{"type":"log","domain":[1e-6,1],"scheme":"redblue"}}}},
{"data":{"name":"thinA"},"mark":{"type":"line","interpolate":"monotone","color":"#f4a582","strokeWidth":1.2}},
{"data":{"name":"greenA"},"mark":{"type":"line","interpolate":"monotone","color":"#62b846","strokeWidth":4,"strokeDash":[19,13]}},
{"data":{"name":"whiteA"},"mark":{"type":"line","interpolate":"monotone","color":"white","strokeWidth":3},"encoding":{"detail":{"field":"s"}}},
{"data":{"values":[{"x":-69,"y":3.436,"l":"Sim"},{"x":53,"y":3.436,"l":"Exp"}]},"mark":{"type":"text","font":"Lato","fontSize":27,"color":"white","align":"left"},"encoding":{"text":{"field":"l"}}},
{"data":{"values":[{"x":-70,"y":3.305,"l":"X"},{"x":-32,"y":2.965,"l":"E"}]},"mark":{"type":"text","font":"Lato","fontStyle":"italic","fontSize":30,"color":"white","align":"left"},"encoding":{"text":{"field":"l"}}},
{"data":{"values":[{"x":-62.4,"y":3.27,"l":"G"},{"x":-26.5,"y":2.937,"l":"ph"}]},"mark":{"type":"text","font":"Lato","fontStyle":"italic","fontSize":20,"color":"white","align":"left"},"encoding":{"text":{"field":"l"}}},
{"data":{"values":[{"x":-29.6,"y":2.62,"l":"LP"}]},"mark":{"type":"text","font":"Lato","fontStyle":"italic","fontSize":28,"color":"#62b846","align":"left"},"encoding":{"text":{"field":"l"}}},
{"data":{"values":[{"x":-102.6,"y":3.562,"l":"a)"}]},"mark":{"type":"text","font":"Lato","fontWeight":"bold","fontSize":25,"color":"#111","align":"left"},"encoding":{"text":{"field":"l"}}},
{"data":{"values":[{"x":2,"y":3.575,"l":"S1 PFO-Glassy"}]},"mark":{"type":"text","font":"Lato","fontSize":28,"color":"#222","align":"center"},"encoding":{"text":{"field":"l"}}}
]},
{"hconcat":[
{"width":382,"height":355.5,
"encoding":{"x":{"field":"x","type":"quantitative","scale":{"domain":[-75,75],"nice":false,"zero":false},"axis":{"title":"Angle (deg)","values":[-60,-40,-20,0,20,40,60],"titlePadding":9}},"y":{"field":"y","type":"quantitative","stack":null,"scale":{"domain":[2.4,3.5],"nice":false,"zero":false},"axis":{"title":null,"values":[2.4,2.6,2.8,3.0,3.2,3.4],"format":".1f"}}},
"layer":[
{"data":{"name":"lowAB"},"mark":{"type":"area","clip":true,"interpolate":"monotone"},"encoding":{"y2":{"datum":2.4},"detail":{"field":"b"},"color":{"field":"t","type":"quantitative","legend":null,"scale":{"type":"log","domain":[1e-6,1],"scheme":"redblue"}}}},
{"data":{"name":"hiB"},"mark":{"type":"area","clip":true,"interpolate":"monotone"},"encoding":{"y2":{"datum":3.5},"detail":{"field":"b"},"color":{"field":"t","type":"quantitative","legend":null,"scale":{"type":"log","domain":[1e-6,1],"scheme":"redblue"}}}},
{"data":{"name":"bandB"},"mark":{"type":"area","clip":true,"interpolate":"monotone"},"encoding":{"y2":{"field":"v"},"detail":{"field":"b"},"color":{"field":"t","type":"quantitative","legend":null,"scale":{"type":"log","domain":[1e-6,1],"scheme":"redblue"}}}},
{"data":{"name":"thinB"},"mark":{"type":"line","interpolate":"monotone","color":"#f4a582","strokeWidth":1.2}},
{"data":{"name":"greenB"},"mark":{"type":"line","interpolate":"monotone","color":"#62b846","strokeWidth":4,"strokeDash":[19,13]}},
{"data":{"name":"whiteB"},"mark":{"type":"line","interpolate":"monotone","color":"white","strokeWidth":3},"encoding":{"detail":{"field":"s"}}},
{"data":{"values":[{"x":-71.4,"y":3.436,"l":"Sim"},{"x":53.3,"y":3.436,"l":"Exp"}]},"mark":{"type":"text","font":"Lato","fontSize":27,"color":"white","align":"left"},"encoding":{"text":{"field":"l"}}},
{"data":{"values":[{"x":-72,"y":3.305,"l":"X"},{"x":-39,"y":3.012,"l":"E"},{"x":-72,"y":2.944,"l":"X"}]},"mark":{"type":"text","font":"Lato","fontStyle":"italic","fontSize":30,"color":"white","align":"left"},"encoding":{"text":{"field":"l"}}},
{"data":{"values":[{"x":-64,"y":3.27,"l":"G"},{"x":-33.7,"y":2.98,"l":"ph"},{"x":-64,"y":2.91,"l":"β"}]},"mark":{"type":"text","font":"Lato","fontStyle":"italic","fontSize":20,"color":"white","align":"left"},"encoding":{"text":{"field":"l"}}},
{"data":{"values":[{"x":-23,"y":2.6,"l":"LP"}]},"mark":{"type":"text","font":"Lato","fontStyle":"italic","fontSize":28,"color":"#62b846","align":"left"},"encoding":{"text":{"field":"l"}}},
{"data":{"values":[{"x":-102.7,"y":3.562,"l":"b)"}]},"mark":{"type":"text","font":"Lato","fontWeight":"bold","fontSize":25,"color":"#111","align":"left"},"encoding":{"text":{"field":"l"}}},
{"data":{"values":[{"x":4.3,"y":3.575,"l":"S2 PFO-β (15%)"}]},"mark":{"type":"text","font":"Lato","fontSize":28,"color":"#222","align":"center"},"encoding":{"text":{"field":"l"}}}
]},
{"width":37,"height":355.5,"data":{"name":"bar"},"mark":{"type":"rect"},"encoding":{"y":{"field":"h","type":"quantitative","scale":{"type":"log","domain":[1e-6,1],"nice":false},"axis":{"orient":"right","title":"TE Transmissivity","titleFontSize":25,"titleAngle":270,"titleBaseline":"top","values":[1e-6,1e-5,1e-4,1e-3,1e-2,1e-1,1],"labelExpr":"['10⁻⁶','10⁻⁵','10⁻⁴','10⁻³','10⁻²','10⁻¹','1'][round(log(datum.value)/LN10)+6]","labelFontSize":18,"titlePadding":11}},"y2":{"datum":1e-6},"color":{"field":"t","type":"quantitative","legend":null,"scale":{"type":"log","domain":[1e-6,1],"scheme":"redblue"}}}}
],"spacing":16}
],"spacing":16},
{"hconcat":[
{"width":386.6,"height":359.7,
"encoding":{"x":{"field":"x","type":"quantitative","scale":{"domain":[-75,75],"nice":false,"zero":false},"axis":{"title":"Angle (deg)","values":[-60,-40,-20,0,20,40,60],"titlePadding":6}},"y":{"field":"y","type":"quantitative","stack":null,"scale":{"domain":[2.4,3.5],"nice":false,"zero":false},"axis":{"title":"Energy (eV)","titleFontSize":27,"values":[2.4,2.6,2.8,3.0,3.2,3.4],"format":".1f","titlePadding":6}}},
"layer":[
{"data":{"name":"lowC"},"mark":{"type":"area","clip":true,"interpolate":"monotone"},"encoding":{"y2":{"datum":2.4},"detail":{"field":"b"},"color":{"field":"t","type":"quantitative","legend":null,"scale":{"type":"log","domain":[1e-6,1],"scheme":"redblue"}}}},
{"data":{"name":"hiC"},"mark":{"type":"area","clip":true,"interpolate":"monotone"},"encoding":{"y2":{"datum":3.5},"detail":{"field":"b"},"color":{"field":"t","type":"quantitative","legend":null,"scale":{"type":"log","domain":[1e-6,1],"scheme":"redblue"}}}},
{"data":{"name":"bandC"},"mark":{"type":"area","clip":true,"interpolate":"monotone"},"encoding":{"y2":{"field":"v"},"detail":{"field":"b"},"color":{"field":"t","type":"quantitative","legend":null,"scale":{"type":"log","domain":[1e-6,1],"scheme":"redblue"}}}},
{"data":{"name":"thinC"},"mark":{"type":"line","interpolate":"monotone","color":"#f4a582","strokeWidth":1.2}},
{"data":{"name":"greenC"},"mark":{"type":"line","interpolate":"monotone","color":"#62b846","strokeWidth":4,"strokeDash":[19,13]}},
{"data":{"name":"whiteC"},"mark":{"type":"line","interpolate":"monotone","color":"white","strokeWidth":3},"encoding":{"detail":{"field":"s"}}},
{"data":{"values":[{"x":-69.6,"y":3.44,"l":"Sim"},{"x":52.2,"y":3.44,"l":"Exp"}]},"mark":{"type":"text","font":"Lato","fontSize":27,"color":"white","align":"left"},"encoding":{"text":{"field":"l"}}},
{"data":{"values":[{"x":-70.3,"y":3.307,"l":"X"},{"x":-38.7,"y":3.023,"l":"E"},{"x":-69,"y":2.95,"l":"X"}]},"mark":{"type":"text","font":"Lato","fontStyle":"italic","fontSize":30,"color":"white","align":"left"},"encoding":{"text":{"field":"l"}}},
{"data":{"values":[{"x":-62.8,"y":3.275,"l":"G"},{"x":-32.8,"y":2.992,"l":"ph"},{"x":-62,"y":2.916,"l":"β"}]},"mark":{"type":"text","font":"Lato","fontStyle":"italic","fontSize":20,"color":"white","align":"left"},"encoding":{"text":{"field":"l"}}},
{"data":{"values":[{"x":-20.4,"y":2.62,"l":"LP"}]},"mark":{"type":"text","font":"Lato","fontStyle":"italic","fontSize":28,"color":"#62b846","align":"left"},"encoding":{"text":{"field":"l"}}},
{"data":{"values":[{"x":-103.5,"y":3.613,"l":"c)"}]},"mark":{"type":"text","font":"Lato","fontWeight":"bold","fontSize":25,"color":"#111","align":"left"},"encoding":{"text":{"field":"l"}}},
{"data":{"values":[{"x":1.5,"y":3.567,"l":"S3 PFO-β (15%)"}]},"mark":{"type":"text","font":"Lato","fontSize":28,"color":"#222","align":"center"},"encoding":{"text":{"field":"l"}}}
]},
{"hconcat":[
{"width":393.3,"height":366.3,
"encoding":{"x":{"field":"x","type":"quantitative","scale":{"domain":[-75,40],"nice":false,"zero":false},"axis":{"title":"Angle (deg)","values":[-60,-40,-20,0,20,40],"titlePadding":4}},"y":{"field":"y","type":"quantitative","stack":null,"scale":{"domain":[2.4,3.5],"nice":false,"zero":false},"axis":{"title":null,"values":[2.4,2.6,2.8,3.0,3.2,3.4],"format":".1f"}}},
"layer":[
{"data":{"name":"lowD"},"mark":{"type":"area","clip":true,"interpolate":"monotone"},"encoding":{"y2":{"datum":2.4},"detail":{"field":"b"},"color":{"field":"t","type":"quantitative","legend":null,"scale":{"type":"log","domain":[1e-6,1],"scheme":"redblue"}}}},
{"data":{"name":"hiD"},"mark":{"type":"area","clip":true,"interpolate":"monotone"},"encoding":{"y2":{"datum":3.5},"detail":{"field":"b"},"color":{"field":"t","type":"quantitative","legend":null,"scale":{"type":"log","domain":[1e-6,1],"scheme":"redblue"}}}},
{"data":{"name":"bandD"},"mark":{"type":"area","clip":true,"interpolate":"monotone"},"encoding":{"y2":{"field":"v"},"detail":{"field":"b"},"color":{"field":"t","type":"quantitative","legend":null,"scale":{"type":"log","domain":[1e-6,1],"scheme":"redblue"}}}},
{"data":{"name":"thinD"},"mark":{"type":"line","interpolate":"monotone","color":"#d1e5f0","strokeWidth":1.2}},
{"data":{"name":"greenD"},"mark":{"type":"line","interpolate":"monotone","color":"#62b846","strokeWidth":4,"strokeDash":[19,13]}},
{"data":{"name":"whiteD"},"mark":{"type":"line","interpolate":"monotone","color":"white","strokeWidth":3},"encoding":{"detail":{"field":"s"}}},
{"data":{"values":[{"x":-69.3,"y":3.44,"l":"Sim"},{"x":25.4,"y":3.326,"l":"Exp"}]},"mark":{"type":"text","font":"Lato","fontSize":27,"color":"white","align":"left"},"encoding":{"text":{"field":"l"}}},
{"data":{"values":[{"x":-72.7,"y":3.164,"l":"X"},{"x":-33.4,"y":3.083,"l":"E"},{"x":-72.7,"y":2.956,"l":"X"}]},"mark":{"type":"text","font":"Lato","fontStyle":"italic","fontSize":30,"color":"white","align":"left"},"encoding":{"text":{"field":"l"}}},
{"data":{"values":[{"x":-67.2,"y":3.13,"l":"G"},{"x":-28.8,"y":3.053,"l":"ph"},{"x":-67.2,"y":2.926,"l":"β"}]},"mark":{"type":"text","font":"Lato","fontStyle":"italic","fontSize":20,"color":"white","align":"left"},"encoding":{"text":{"field":"l"}}},
{"data":{"values":[{"x":-13.9,"y":2.734,"l":"LP"}]},"mark":{"type":"text","font":"Lato","fontStyle":"italic","fontSize":28,"color":"#62b846","align":"left"},"encoding":{"text":{"field":"l"}}},
{"data":{"values":[{"x":-99.8,"y":3.608,"l":"d)"}]},"mark":{"type":"text","font":"Lato","fontWeight":"bold","fontSize":25,"color":"#111","align":"left"},"encoding":{"text":{"field":"l"}}},
{"data":{"values":[{"x":-15.1,"y":3.563,"l":"S4 PFOA-β (15%) - φ=0°"}]},"mark":{"type":"text","font":"Lato","fontSize":28,"color":"#222","align":"center"},"encoding":{"text":{"field":"l"}}}
]},
{"width":37,"height":366.3,"data":{"name":"bar"},"mark":{"type":"rect"},"encoding":{"y":{"field":"h","type":"quantitative","scale":{"type":"log","domain":[1e-6,1],"nice":false},"axis":{"orient":"right","title":"TE Transmissivity","titleFontSize":25,"titleAngle":270,"titleBaseline":"top","values":[1e-6,1e-5,1e-4,1e-3,1e-2,1e-1,1],"labelExpr":"['10⁻⁶','10⁻⁵','10⁻⁴','10⁻³','10⁻²','10⁻¹','1'][round(log(datum.value)/LN10)+6]","labelFontSize":18,"titlePadding":9}},"y2":{"datum":1e-6},"color":{"field":"t","type":"quantitative","legend":null,"scale":{"type":"log","domain":[1e-6,1],"scheme":"redblue"}}}}
],"spacing":16}
],"spacing":-7}
]}
